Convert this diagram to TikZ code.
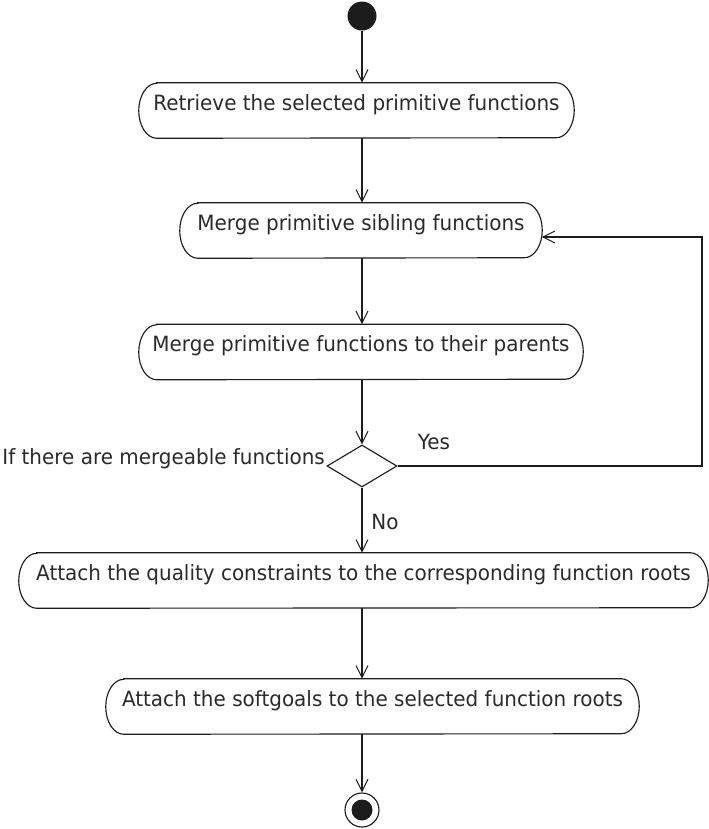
\documentclass[tikz,border=0pt]{standalone}
\usepackage{fontspec}
\setmainfont{DejaVu Sans}[FakeStretch=0.95]
\usetikzlibrary{arrows.meta,shapes.geometric,calc}
\definecolor{ink}{HTML}{1C1C1C}
\definecolor{txt}{HTML}{2A2A2A}

% outline of an activity: straight top and bottom, elliptic ends
\newcommand\actshape[1]{%
  \draw[edge] ($(#1.north west)+(18,0)$) -- ($(#1.north east)+(-18,0)$)
    arc[start angle=90,end angle=-90,x radius=13.5pt,y radius=20.625pt]
    -- ($(#1.south west)+(18,0)$)
    arc[start angle=270,end angle=90,x radius=13.5pt,y radius=20.625pt]
    -- cycle;}

\begin{document}
\begin{tikzpicture}[x=0.75pt,y=-0.75pt,
  every node/.style={font=\fontsize{15.75pt}{18pt}\selectfont, text=txt},
  edge/.style={draw=ink, line width=0.85pt},
  arr/.style={draw=ink, line width=0.8pt, -{Straight Barb[length=9pt,width=9pt,line width=0.8pt]}},
  act/.style={rectangle, inner sep=0pt, minimum height=41.25pt,
    text height=20.25pt, text depth=21pt, minimum width=0.75pt*#1},
  decide/.style={diamond, draw=ink, line width=0.85pt, inner sep=0pt,
    minimum width=52.5pt, minimum height=31.5pt},
]
\useasboundingbox (0,0) rectangle (709,829);

\coordinate (spine) at (362,0);

% initial and final states
\node[circle, fill=ink, inner sep=0pt, minimum size=21.75pt] (start) at (362,16) {};
\node[circle, draw=ink, line width=0.85pt, inner sep=0pt, minimum size=25.5pt] (stop) at (362,810) {};
\node[circle, fill=ink, inner sep=0pt, minimum size=15.75pt] (stopdot) at (stop.center) {};

% activities
\node[act=435] (b1) at (356.5,110.5) {Retrieve the selected primitive functions};
\node[act=362] (b2) at (361,230.5) {Merge primitive sibling functions};
\node[act=444] (b3) at (361,352) {Merge primitive functions to their parents};
\node[act=689] (b4) at (363.5,580.5) {Attach the quality constraints to the corresponding function roots};
\node[act=533] (b5) at (372.5,706.5) {Attach the softgoals to the selected function roots};
\actshape{b1}
\actshape{b2}
\actshape{b3}
\actshape{b4}
\actshape{b5}

% decision
\node[decide] (dia) at (362,466) {};
\node[anchor=east, inner sep=1pt] (cond) at ($(dia.west)+(0,-7)$) {If there are mergeable functions};
\node (yes) at (434,442) {Yes};
\node (no) at (385,522) {No};

% flow
\draw[arr] (start) -- (start |- b1.north);
\draw[arr] (b1.south -| spine) -- (b2.north -| spine);
\draw[arr] (b2.south -| spine) -- (b3.north -| spine);
\draw[arr] (b3.south -| spine) -- (dia.north);
\draw[arr] (dia.south) -- (b4.north -| spine);
\draw[arr] (b4.south -| spine) -- (b5.north -| spine);
\draw[arr] (b5.south -| spine) -- (stop.north);

% loop back while merging is still possible
\coordinate (loopcorner) at (702,237);
\draw[arr] (dia.east) -| (loopcorner) -- ($(loopcorner -| b2.east)+(-0.5,0)$);
\end{tikzpicture}
\end{document}
